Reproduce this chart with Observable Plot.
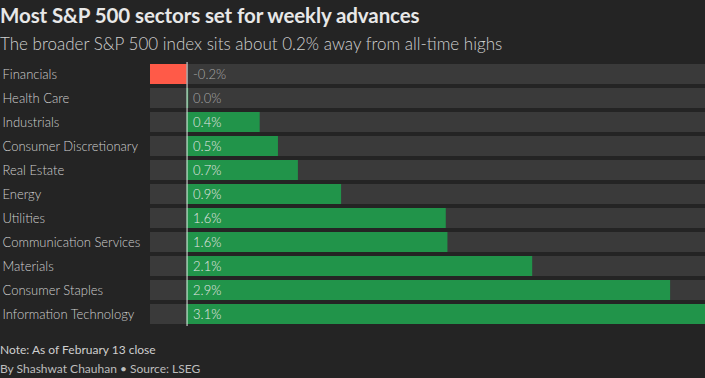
<!DOCTYPE html>
<html>
<head>
<meta charset="utf-8">
<script src="https://cdn.jsdelivr.net/npm/d3@7"></script>
<script src="https://cdn.jsdelivr.net/npm/@observablehq/plot@0.6"></script>
<style>
  html, body { margin: 0; padding: 0; background: #242424; width: 705px; height: 378px; overflow: hidden; }
  body { font-family: Lato, "Noto Sans", sans-serif; color: #e0e0e0; position: relative; }
  #title { position: absolute; left: 0; top: 3px; font-size: 20.5px; font-weight: 700; color: #e8e8e8; white-space: nowrap; letter-spacing: -0.1px; }
  #subtitle { position: absolute; left: 0; top: 33px; font-size: 17px; color: #d0d0d0; white-space: nowrap; font-weight: 300; }
  #chart { position: absolute; left: 0; top: 58px; }
  #note { position: absolute; left: 0; top: 343px; font-size: 12px; line-height: 14px; color: #cfcfcf; white-space: nowrap; }
  #byline { position: absolute; left: 0; top: 362px; font-size: 12px; line-height: 14px; color: #bdbdbd; white-space: nowrap; }
</style>
</head>
<body>
<div id="title">Most S&amp;P 500 sectors set for weekly advances</div>
<div id="subtitle">The broader S&amp;P 500 index sits about 0.2% away from all-time highs</div>
<div id="chart"></div>
<div id="note">Note: As of February 13 close</div>
<div id="byline">By Shashwat Chauhan • Source: LSEG</div>
<script>
const sectors = ["Financials", "Health Care", "Industrials", "Consumer Discretionary", "Real Estate", "Energy", "Utilities", "Communication Services", "Materials", "Consumer Staples", "Information Technology"];
const changes = [-0.22, 0.01, 0.44, 0.55, 0.67, 0.93, 1.56, 1.57, 2.08, 2.91, 3.12];
const valueLabels = ["-0.2%", "0.0%", "0.4%", "0.5%", "0.7%", "0.9%", "1.6%", "1.6%", "2.1%", "2.9%", "3.1%"];

const data = sectors.map((s, i) => ({sector: s, change: changes[i], label: valueLabels[i]}));
const xmin = d3.min(changes);
const xmax = d3.max(changes);

const chart = Plot.plot({
  width: 705,
  height: 272,
  marginLeft: 150,
  marginRight: 0,
  marginTop: 4,
  marginBottom: 4,
  style: {background: "transparent", fontFamily: "Lato, 'Noto Sans', sans-serif"},
  x: {domain: [xmin, xmax], axis: null},
  y: {domain: sectors, axis: null, paddingInner: 1/6, paddingOuter: 1/12},
  marks: [
    Plot.barX(data, {y: "sector", x1: () => xmin, x2: () => xmax, fill: "#3a3a3a"}),
    Plot.barX(data, {y: "sector", x1: 0, x2: "change", fill: d => d.change < 0 ? "#ff5a48" : "#21944a"}),
    Plot.ruleX([0], {stroke: "#e8e8e8", strokeWidth: 1}),
    Plot.text(data, {y: "sector", x: () => xmin, text: "sector", dx: -148, textAnchor: "start", fill: "#cfcfcf", fontSize: 13, fontWeight: 300}),
    Plot.text(data, {y: "sector", x: () => 0, text: "label", dx: 6, textAnchor: "start", fill: d => d.change > 0.2 ? "#e6e6e6" : "#a8a8a8", fontSize: 13, fontWeight: 300})
  ]
});
document.getElementById("chart").appendChild(chart);
</script>
</body>
</html>
